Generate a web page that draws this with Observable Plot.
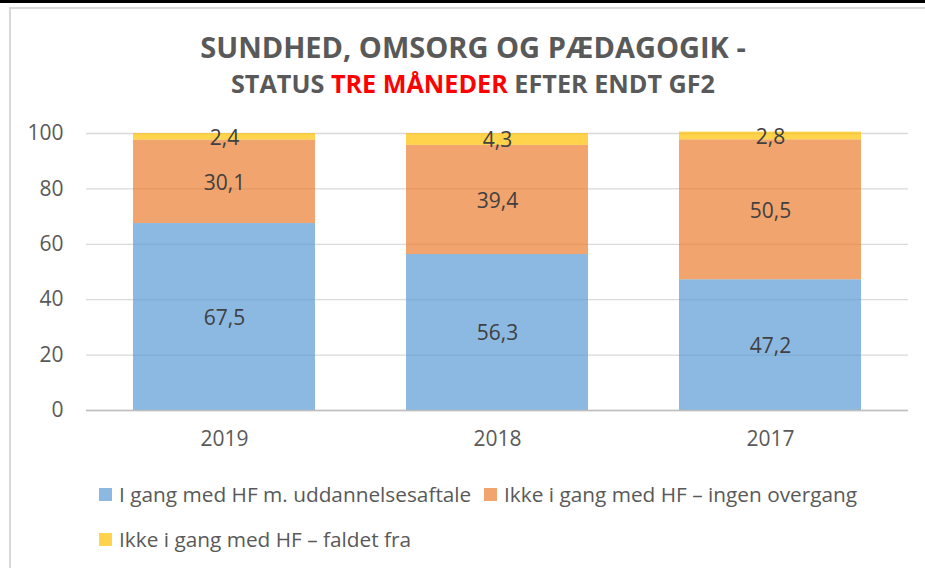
<!DOCTYPE html>
<html>
<head>
<meta charset="utf-8">
<script src="https://cdn.jsdelivr.net/npm/d3@7"></script>
<script src="https://cdn.jsdelivr.net/npm/@observablehq/plot@0.6"></script>
<style>
  html, body { margin: 0; padding: 0; background: #fff; }
  body { width: 925px; height: 568px; position: relative; overflow: hidden; font-family: "Open Sans", sans-serif; }
  #topbar { position: absolute; left: 0; top: 0; width: 925px; height: 3px; background: #000; }
  #frame { position: absolute; left: 9px; top: 7px; width: 930px; height: 580px; border-left: 2px solid #d9d9d9; border-top: 2px solid #d9d9d9; }
  .title { position: absolute; left: 0; width: 946px; text-align: center; font-weight: 700; color: #595959; white-space: nowrap; }
  #t1 { top: 31.5px; font-size: 29px; line-height: 29px; }
  #t2 { top: 70.5px; font-size: 25.2px; line-height: 25.2px; }
  #t2 .red { color: #ff0000; }
  #chart { position: absolute; left: 0; top: 110px; }
  .leg { position: absolute; font-size: 20.8px; line-height: 21px; color: #595959; white-space: nowrap; display: flex; align-items: center; }
  .sw { width: 13px; height: 13px; margin-right: 7px; display: inline-block; }
</style>
</head>
<body>
<div id="topbar"></div>
<div id="frame"></div>
<div class="title" id="t1">SUNDHED, OMSORG OG PÆDAGOGIK -</div>
<div class="title" id="t2">STATUS <span class="red">TRE MÅNEDER</span> EFTER ENDT GF2</div>
<div id="chart"></div>
<div id="legend"></div>
<script>
const years = ["2019", "2018", "2017"];
const seriesNames = [
  "I gang med HF m. uddannelsesaftale",
  "Ikke i gang med HF – ingen overgang",
  "Ikke i gang med HF – faldet fra"
];
const inGang = [67.5, 56.3, 47.2];
const ingenOvergang = [30.1, 39.4, 50.5];
const faldetFra = [2.4, 4.3, 2.8];
const seriesColors = ["#5B9BD5", "#ED7D31", "#FFC000"];
const yTicks = [0, 20, 40, 60, 80, 100];

const seriesValues = [inGang, ingenOvergang, faldetFra];
const data = [];
seriesNames.forEach((s, si) => {
  years.forEach((y, yi) => {
    data.push({year: y, series: s, value: seriesValues[si][yi]});
  });
});

const fmt = v => v.toFixed(1).replace(".", ",");

const chart = Plot.plot({
  width: 925,
  height: 350,
  marginTop: 23,
  marginBottom: 50,
  marginLeft: 86,
  marginRight: 17,
  style: {fontFamily: "Open Sans", fontSize: "21px", color: "#595959", background: "transparent"},
  x: {domain: years, paddingInner: 0.333, paddingOuter: 0.1667, label: null},
  y: {domain: [0, 100], label: null},
  color: {domain: seriesNames, range: seriesColors},
  marks: [
    Plot.gridY(yTicks, {stroke: "#d9d9d9", strokeOpacity: 1, strokeWidth: 1.3}),
    Plot.barY(data, Plot.stackY({x: "year", y: "value", fill: "series", fillOpacity: 0.7, order: seriesNames})),
    Plot.ruleY([0], {stroke: "#bfbfbf", strokeWidth: 1.5}),
    Plot.text(data, Plot.stackY({x: "year", y: "value", z: "series", order: seriesNames,
      text: d => fmt(d.value), fill: "#404040", fontSize: 21, dy: 1})),
    Plot.axisY(yTicks, {tickSize: 0, tickPadding: 23, label: null, fill: "#595959", fontSize: 21}),
    Plot.axisX({tickSize: 0, tickPadding: 21, label: null, fill: "#595959", fontSize: 21})
  ]
});
document.getElementById("chart").appendChild(chart);

const legend = document.getElementById("legend");
const legPos = [[99, 484], [484, 484], [99, 529]];
seriesNames.forEach((s, i) => {
  const item = document.createElement("div");
  item.className = "leg";
  item.style.left = legPos[i][0] + "px";
  item.style.top = legPos[i][1] + "px";
  const sw = document.createElement("span");
  sw.className = "sw";
  sw.style.background = seriesColors[i];
  sw.style.opacity = 0.7;
  item.appendChild(sw);
  const t = document.createElement("span");
  t.textContent = s;
  item.appendChild(t);
  legend.appendChild(item);
});
</script>
</body>
</html>
